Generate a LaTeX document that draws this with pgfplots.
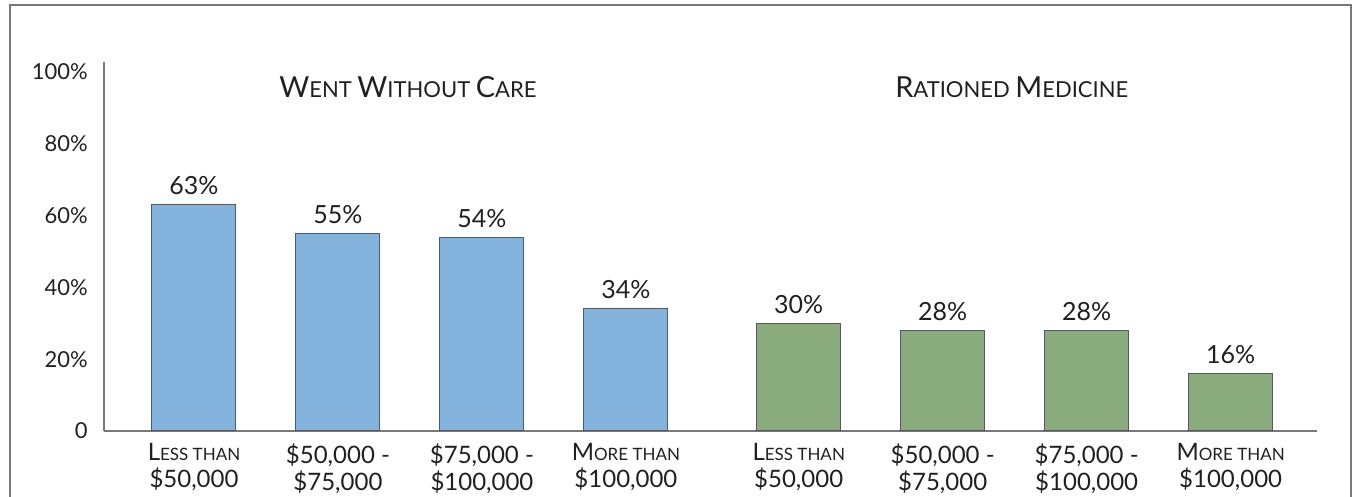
\documentclass[border=0pt]{standalone}
\usepackage{fontspec}
\setmainfont{Lato}
\usepackage{pgfplots}
\pgfplotsset{compat=1.18}
\definecolor{barblue}{RGB}{132,180,222}
\definecolor{bargreen}{RGB}{138,171,123}
\definecolor{edgegray}{RGB}{85,88,92}
\definecolor{axgray}{RGB}{120,120,122}
\definecolor{txt}{RGB}{35,31,32}
\newcommand{\tbig}{\fontsize{29pt}{30pt}\selectfont}
\newcommand{\tsml}{\fontsize{22pt}{24pt}\selectfont}
\newcommand{\ybig}{\fontsize{22pt}{26pt}\selectfont}
\newcommand{\xbig}{\fontsize{24pt}{27pt}\selectfont}
\newcommand{\xsml}{\fontsize{17pt}{27pt}\selectfont}
\begin{document}
\begin{tikzpicture}
\useasboundingbox (0pt,0pt) rectangle (1354pt,497pt);
\clip (0pt,0pt) rectangle (1354pt,497pt);
\draw[axgray, line width=1.6pt] (10pt,-5pt) -- (10pt,492pt) -- (1351pt,492pt) -- (1351pt,-5pt);
\begin{axis}[
  at={(104pt,66pt)}, anchor=south west,
  scale only axis, width=1213pt, height=369pt,
  xmin=-0.625, xmax=7.8, ymin=0, ymax=102.8,
  axis lines=left,
  axis line style={-, axgray, line width=1.5pt},
  tick style={draw=none},
  /pgf/number format/assume math mode=true,
  ytick={0,20,40,60,80,100},
  yticklabels={0,20\%,40\%,60\%,80\%,100\%},
  yticklabel style={anchor=east, inner sep=0pt, xshift=-14pt, font=\ybig, text=txt},
  xtick={0,1,2,3,4.2,5.2,6.2,7.2},
  xticklabels={
    {{\xbig L}{\xsml ESS THAN}\\\$50{,}000},
    {\$50{,}000 -\\\$75{,}000},
    {\$75{,}000 -\\\$100{,}000},
    {{\xbig M}{\xsml ORE THAN}\\\$100{,}000},
    {{\xbig L}{\xsml ESS THAN}\\\$50{,}000},
    {\$50{,}000 -\\\$75{,}000},
    {\$75{,}000 -\\\$100{,}000},
    {{\xbig M}{\xsml ORE THAN}\\\$100{,}000}},
  xticklabel style={anchor=north, align=center, inner sep=0pt, yshift=-10pt, font=\xbig, text=txt},
  nodes near coords={\pgfmathprintnumber{\pgfplotspointmeta}\%},
  every node near coord/.append style={anchor=base, inner sep=0pt, yshift=10pt, font=\fontsize{25pt}{27pt}\selectfont, text=txt},
  clip=false,
]
\addplot[ybar, bar width=84pt, bar shift=0pt, fill=barblue, draw=edgegray, line width=1pt]
  coordinates {(0,63) (1,55) (2,54) (3,34)};
\addplot[ybar, bar width=84pt, bar shift=0pt, fill=bargreen, draw=edgegray, line width=1pt]
  coordinates {(4.2,30) (5.2,28) (6.2,28) (7.2,16)};
\node[anchor=base, text=txt, inner sep=0pt] at (axis cs:1.486,93) {{\tbig W}{\tsml ENT }{\tbig W}{\tsml ITHOUT }{\tbig C}{\tsml ARE}};
\node[anchor=base, text=txt, inner sep=0pt] at (axis cs:5.68,93) {{\tbig R}{\tsml ATIONED }{\tbig M}{\tsml EDICINE}};
\end{axis}
\end{tikzpicture}
\end{document}
